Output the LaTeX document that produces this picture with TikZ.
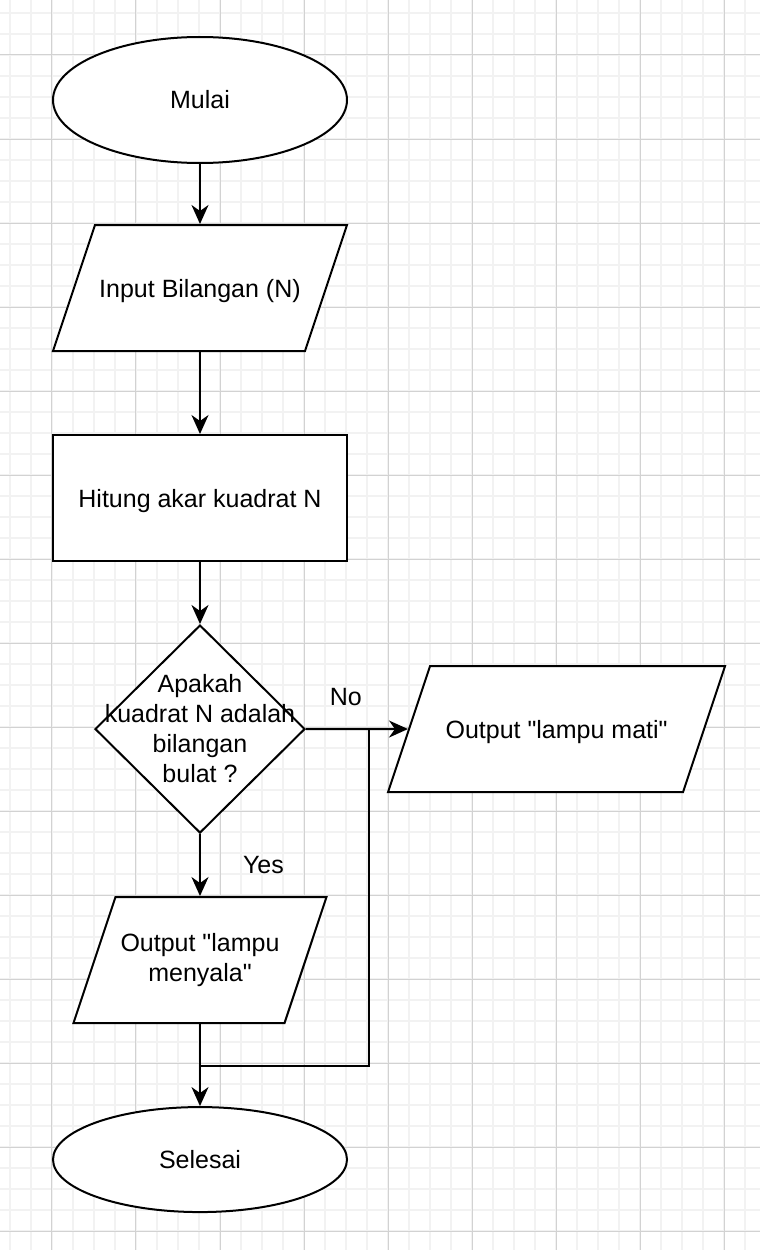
\documentclass[tikz,border=0pt]{standalone}
\usepackage{fontspec}
\setmainfont{Liberation Sans}[Ligatures=TeXOff]
\usetikzlibrary{positioning,shapes.geometric,arrows.meta}
\definecolor{gridminor}{HTML}{F2F2F2}
\definecolor{gridmajor}{HTML}{D2D2D2}

\begin{document}
\begin{tikzpicture}[x=1pt, y=1pt, font=\fontsize{25}{30}\selectfont,
        terminal/.style={ellipse, draw, fill=white, line width=2pt, minimum width=294pt, minimum height=126pt, inner sep=0pt},
        io/.style={trapezium, trapezium left angle=71.57, trapezium right angle=108.43, trapezium stretches body, draw, fill=white, line width=2pt, text height=126pt, text depth=0pt, inner sep=0pt},
        process/.style={rectangle, draw, fill=white, line width=2pt, minimum width=294pt, minimum height=126pt, inner sep=0pt, text depth=0pt},
        decision/.style={diamond, draw, fill=white, line width=2pt, minimum width=210pt, minimum height=208pt, inner sep=0pt},
        link/.style={line width=2pt},
        linkarrow/.style={link, -{Stealth[length=19pt, width=17pt, inset=6pt]}},
        lbl/.style={inner sep=0pt, align=center}]

        \useasboundingbox (-200,100) rectangle (560,-1150);
        \fill[white] (-200,100) rectangle (560,-1150);
        \begin{scope}
        \clip (-200,100) rectangle (560,-1150);
        \draw[gridminor, line width=1.5pt, step=21pt, shift={(-190pt,87pt)}] (-100,-1400) grid (900,200);
        \draw[gridmajor, line width=1pt, step=84pt, shift={(-148pt,45pt)}] (-100,-1400) grid (900,200);
        \end{scope}

        \node[terminal] (start) {Mulai};
        \node[io, minimum width=294pt, label={[lbl, text depth=0pt]center:Input Bilangan (N)}] (input) [below=60pt of start] {};
        \node[process] (calc) [below=82pt of input] {Hitung akar kuadrat N};
        \node[decision, label={[lbl]center:Apakah\\kuadrat N adalah\\bilangan\\bulat ?}] (cond) [below=62pt of calc] {};
        \node[io, minimum width=337pt, label={[lbl, text depth=0pt]center:Output "lampu mati"}] (off) [right=102pt of cond] {};
        \node[io, minimum width=253pt, label={[lbl]center:Output "lampu\\menyala"}] (on) [below=62pt of cond] {};
        \node[terminal, minimum height=105pt] (end) [below=82pt of on] {Selesai};

        \coordinate (branch) at ([xshift=63pt]cond.east);
        \coordinate (merge) at ([yshift=-42pt]on.south);

        \draw[linkarrow] (start) -- (input);
        \draw[linkarrow] (input) -- (calc);
        \draw[linkarrow] (calc) -- (cond);
        \draw[linkarrow] (cond) -- node[lbl, pos=0.39, above=22pt] {No} (off);
        \draw[linkarrow] (cond) -- node[lbl, pos=0.5, right=42pt] {Yes} (on);
        \draw[link] (branch) |- (merge);
        \draw[linkarrow] (on) -- (end);

\end{tikzpicture}
\end{document}
